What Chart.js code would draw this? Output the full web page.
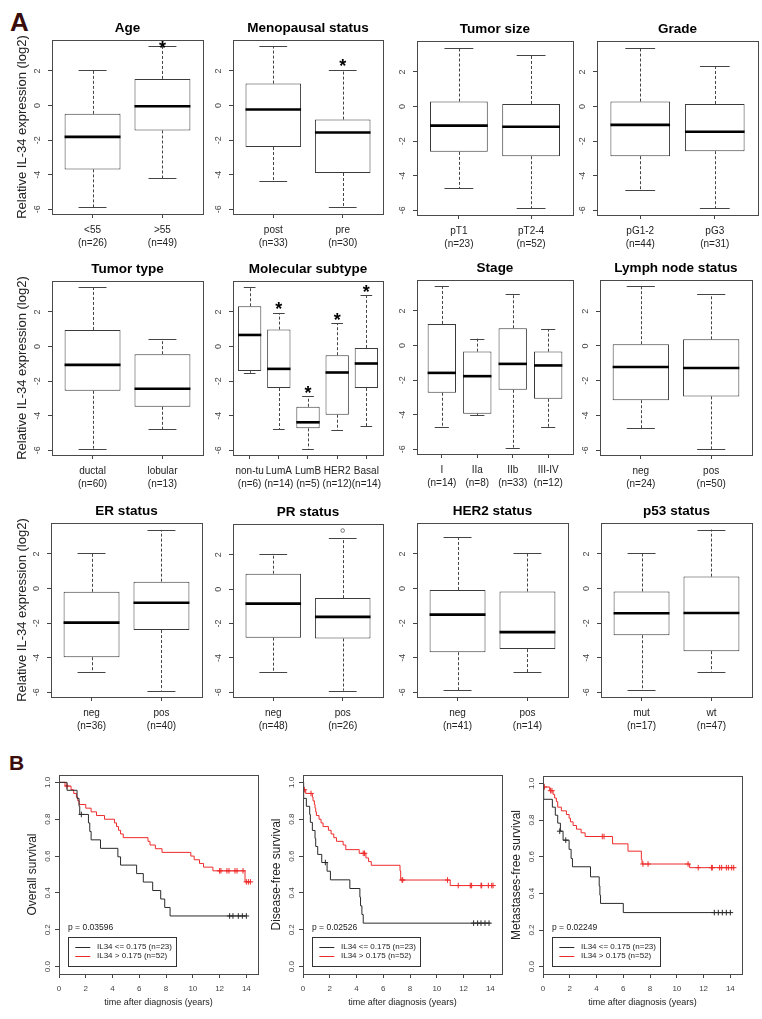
<!DOCTYPE html>
<html><head><meta charset="utf-8">
<script src="https://cdn.jsdelivr.net/npm/chart.js@4.4.1/dist/chart.umd.min.js"></script>
<style>
html,body{margin:0;padding:0;background:#fff;}
body{width:762px;height:1019px;position:relative;overflow:hidden;font-family:"Liberation Sans",Arial,sans-serif;}
canvas{position:absolute;}
.lab{position:absolute;font-weight:bold;color:#3a0c0c;line-height:1;font-family:"Liberation Sans",Arial,sans-serif;}
</style></head><body>
<div class="lab" style="left:10px;top:9px;font-size:26px;">A</div>
<div class="lab" style="left:9px;top:752px;font-size:21px;">B</div>
<script>
// ---------------- Panel A: box-plot statistics (log2 relative IL-34) ----------------
const boxYTicks = [-6, -4, -2, 0, 2];

const ageCats = ['<55', '>55'];         const ageN = [26, 49];
const ageLow = [-5.88, -4.21];          const ageQ1 = [-3.69, -1.44];  const ageMed = [-1.81, -0.04];
const ageQ3 = [-0.48, 1.54];            const ageHigh = [2.08, 3.42];  const ageStar = [false, true];

const menoCats = ['post', 'pre'];       const menoN = [33, 30];
const menoLow = [-4.38, -5.88];         const menoQ1 = [-2.40, -3.90]; const menoMed = [-0.23, -1.56];
const menoQ3 = [1.27, -0.81];           const menoHigh = [3.42, 2.08]; const menoStar = [false, true];

const sizeCats = ['pT1', 'pT2-4'];      const sizeN = [23, 52];
const sizeLow = [-4.73, -5.88];         const sizeQ1 = [-2.62, -2.87]; const sizeMed = [-1.10, -1.17];
const sizeQ3 = [0.29, 0.15];            const sizeHigh = [3.40, 3.00];

const gradeCats = ['pG1-2', 'pG3'];     const gradeN = [44, 31];
const gradeLow = [-4.85, -5.88];        const gradeQ1 = [-2.87, -2.58]; const gradeMed = [-1.06, -1.46];
const gradeQ3 = [0.29, 0.15];           const gradeHigh = [3.40, 2.33];

const typeCats = ['ductal', 'lobular']; const typeN = [60, 13];
const typeLow = [-5.90, -4.79];         const typeQ1 = [-2.56, -3.48]; const typeMed = [-1.06, -2.44];
const typeQ3 = [0.96, -0.44];           const typeHigh = [3.42, 0.44];

const molCats = ['non-tu', 'LumA', 'LumB', 'HER2', 'Basal']; const molN = [6, 14, 5, 12, 14];
const molLow = [-1.52, -4.79, -5.90, -4.85, -4.60];
const molQ1 = [-1.42, -2.40, -4.73, -3.94, -2.40];
const molMed = [0.67, -1.29, -4.38, -1.50, -0.98];
const molQ3 = [2.33, 0.98, -3.48, -0.50, -0.08];
const molHigh = [3.42, 1.94, -2.87, 1.35, 2.98];
const molStar = [false, true, true, true, true];

const stageCats = ['I', 'IIa', 'IIb', 'III-IV']; const stageN = [14, 8, 33, 12];
const stageLow = [-4.73, -4.04, -5.90, -4.73];
const stageQ1 = [-2.73, -3.94, -2.56, -3.08];
const stageMed = [-1.58, -1.77, -1.06, -1.15];
const stageQ3 = [1.25, -0.35, 1.00, -0.35];
const stageHigh = [3.42, 0.40, 3.00, 0.96];

const lnCats = ['neg', 'pos'];          const lnN = [24, 50];
const lnLow = [-4.73, -5.92];           const lnQ1 = [-3.12, -2.90];   const lnMed = [-1.21, -1.27];
const lnQ3 = [0.10, 0.38];              const lnHigh = [3.42, 2.98];

const erCats = ['neg', 'pos'];          const erN = [36, 40];
const erLow = [-4.85, -5.90];           const erQ1 = [-3.97, -2.40];   const erMed = [-1.97, -0.82];
const erQ3 = [-0.19, 0.40];             const erHigh = [2.05, 3.39];

const prCats = ['neg', 'pos'];          const prN = [48, 26];
const prLow = [-4.83, -5.90];           const prQ1 = [-2.82, -2.87];   const prMed = [-0.84, -1.61];
const prQ3 = [0.90, -0.52];             const prHigh = [2.07, 2.95];
const prOutX = [2];                     const prOutY = [3.41];

const her2Cats = ['neg', 'pos'];        const her2N = [41, 14];
const her2Low = [-5.88, -4.83];         const her2Q1 = [-3.68, -3.50]; const her2Med = [-1.51, -2.52];
const her2Q3 = [-0.08, -0.17];          const her2High = [2.97, 2.07];

const p53Cats = ['mut', 'wt'];          const p53N = [17, 47];
const p53Low = [-5.88, -4.80];          const p53Q1 = [-2.70, -3.62];  const p53Med = [-1.43, -1.41];
const p53Q3 = [-0.17, 0.69];            const p53High = [2.07, 3.41];

// ---------------- Panel B: Kaplan-Meier curves ----------------
const kmXTicks = [0, 2, 4, 6, 8, 10, 12, 14];
const kmYTicks = [0, 0.2, 0.4, 0.6, 0.8, 1.0];
const kmLabels = ['IL34 <= 0.175 (n=23)', 'IL34 > 0.175 (n=52)'];

// Overall survival
const osLowT = [0, 0.6, 1.35, 1.5, 1.55, 2.2, 2.3, 2.4, 3.1, 4.4, 4.6, 5.8, 6.3, 7.0, 7.6, 7.9, 8.3, 14.0];
const osLowS = [1, 0.957, 0.913, 0.870, 0.826, 0.780, 0.734, 0.688, 0.642, 0.596, 0.551, 0.505, 0.459, 0.413, 0.367, 0.321, 0.275, 0.275];
const osLowCensT = [1.67, 12.75, 13.0, 13.4, 13.7, 14.0];
const osLowCensS = [0.826, 0.275, 0.275, 0.275, 0.275, 0.275];
const osHighT = [0, 0.45, 0.9, 1.1, 1.3, 1.4, 1.5, 2.0, 2.4, 2.8, 3.4, 4.15, 4.3, 4.45, 4.6, 4.8, 6.65, 6.8, 7.2, 7.7, 9.85, 10.1, 10.5, 10.8, 11.5, 13.9, 14.3];
const osHighS = [1, 0.98, 0.96, 0.94, 0.92, 0.90, 0.88, 0.86, 0.84, 0.82, 0.80, 0.78, 0.76, 0.74, 0.72, 0.70, 0.68, 0.66, 0.64, 0.62, 0.60, 0.58, 0.56, 0.54, 0.52, 0.46, 0.46];
const osHighCensT = [0.6, 12.0, 12.1, 12.55, 12.7, 13.15, 13.3, 13.75, 14.0, 14.15, 14.3];
const osHighCensS = [0.98, 0.52, 0.52, 0.52, 0.52, 0.52, 0.52, 0.52, 0.46, 0.46, 0.46];

// Disease-free survival
const dfsLowT = [0, 0.05, 0.25, 0.5, 0.55, 0.7, 0.9, 0.95, 1.1, 1.4, 1.8, 2.05, 3.5, 4.25, 4.3, 4.4, 4.5, 14.0];
const dfsLowS = [1, 0.913, 0.870, 0.826, 0.783, 0.739, 0.696, 0.652, 0.609, 0.565, 0.518, 0.471, 0.424, 0.377, 0.330, 0.283, 0.236, 0.236];
const dfsLowCensT = [1.67, 12.75, 13.05, 13.3, 13.6, 13.9];
const dfsLowCensS = [0.565, 0.236, 0.236, 0.236, 0.236, 0.236];
const dfsHighT = [0, 0.02, 0.05, 0.2, 0.7, 0.75, 0.85, 0.9, 0.95, 1.0, 1.2, 1.35, 1.5, 1.9, 2.1, 2.3, 2.5, 3.0, 3.2, 4.2, 4.7, 4.9, 5.1, 7.25, 7.3, 11.0, 14.3];
const dfsHighS = [1, 0.98, 0.96, 0.94, 0.92, 0.90, 0.88, 0.86, 0.84, 0.82, 0.80, 0.78, 0.76, 0.74, 0.72, 0.70, 0.68, 0.66, 0.635, 0.615, 0.59, 0.57, 0.55, 0.52, 0.47, 0.44, 0.44];
const dfsHighCensT = [0.1, 0.6, 4.5, 4.6, 7.4, 7.45, 10.8, 11.6, 12.5, 12.6, 13.3, 13.35, 13.85, 14.1, 14.2];
const dfsHighCensS = [0.96, 0.94, 0.615, 0.615, 0.47, 0.47, 0.47, 0.44, 0.44, 0.44, 0.44, 0.44, 0.44, 0.44, 0.44];

// Metastases-free survival
const mfsLowT = [0, 0.05, 0.7, 0.92, 1.1, 1.3, 1.5, 1.95, 2.1, 2.2, 3.55, 4.2, 4.25, 4.3, 6.0, 14.0];
const mfsLowS = [1, 0.913, 0.870, 0.826, 0.783, 0.739, 0.690, 0.640, 0.590, 0.545, 0.490, 0.440, 0.390, 0.345, 0.295, 0.295];
const mfsLowCensT = [1.25, 1.7, 12.8, 13.1, 13.4, 13.7, 14.0];
const mfsLowCensS = [0.739, 0.690, 0.295, 0.295, 0.295, 0.295, 0.295];
const mfsHighT = [0, 0.03, 0.5, 0.75, 0.87, 1.0, 1.1, 1.37, 1.75, 1.95, 2.05, 2.25, 2.5, 2.85, 3.15, 5.2, 6.35, 7.35, 7.4, 10.96, 14.3];
const mfsHighS = [1, 0.98, 0.96, 0.94, 0.92, 0.90, 0.87, 0.85, 0.83, 0.81, 0.79, 0.77, 0.75, 0.73, 0.71, 0.67, 0.63, 0.585, 0.56, 0.54, 0.54];
const mfsHighCensT = [0.1, 0.57, 0.67, 4.43, 4.56, 7.47, 7.85, 10.84, 11.6, 12.6, 12.65, 13.2, 13.35, 13.7, 13.85, 14.1, 14.25];
const mfsHighCensS = [0.98, 0.96, 0.96, 0.71, 0.71, 0.56, 0.56, 0.56, 0.54, 0.54, 0.54, 0.54, 0.54, 0.54, 0.54, 0.54, 0.54];

// ---------------- rendering ----------------
Chart.defaults.font.family = "'Liberation Sans', Arial, Helvetica, sans-serif";
Chart.defaults.animation = false;

function addCanvas(left, top, w, h) {
  const c = document.createElement('canvas');
  c.width = w; c.height = h;
  c.style.left = left + 'px'; c.style.top = top + 'px';
  c.style.width = w + 'px'; c.style.height = h + 'px';
  document.body.appendChild(c);
  return c;
}
const al = v => Math.round(v) + 0.5;

const framePlugin = {
  id: 'frame',
  afterDraw(chart) {
    const {ctx, chartArea: a} = chart;
    ctx.save();
    ctx.strokeStyle = '#4a4a4a'; ctx.lineWidth = 1; ctx.setLineDash([]);
    ctx.strokeRect(al(a.left), al(a.top), Math.round(a.right - a.left), Math.round(a.bottom - a.top));
    ctx.restore();
  }
};

function boxPanel(p) {
  const [l, t, r, b] = p.frame;
  const AL = p.yTitle ? l : 30, AT = 30, AB = 48, AR = 12;
  const W = AL + (r - l) + AR, H = AT + (b - t) + AB;
  const cv = addCanvas(l - AL, t - AT, W, H);
  const n = p.cats.length;
  const pad = p.xPad !== undefined ? p.xPad : 0.04 * n;
  const xmin = 0.5 - pad, xmax = n + 0.5 + pad;

  const extras = {
    id: 'boxExtras',
    afterDatasetsDraw(chart) {
      const {ctx} = chart; const xs = chart.scales.x, ys = chart.scales.y;
      const unit = xs.getPixelForValue(1) - xs.getPixelForValue(0);
      const ln = (x1, y1, x2, y2) => { ctx.beginPath(); ctx.moveTo(x1, y1); ctx.lineTo(x2, y2); ctx.stroke(); };
      ctx.save();
      p.cats.forEach((c, i) => {
        const cx = xs.getPixelForValue(i + 1);
        const yHi = ys.getPixelForValue(p.hi[i]), yLo = ys.getPixelForValue(p.lo[i]);
        const yQ1 = ys.getPixelForValue(p.q1[i]), yQ3 = ys.getPixelForValue(p.q3[i]);
        const yMed = ys.getPixelForValue(p.med[i]);
        ctx.strokeStyle = '#444'; ctx.lineWidth = 1;
        ctx.setLineDash([3, 2]);
        ln(al(cx), yQ3, al(cx), yHi);
        ln(al(cx), yQ1, al(cx), yLo);
        ctx.setLineDash([]);
        ln(cx - 0.2 * unit, al(yHi), cx + 0.2 * unit, al(yHi));
        ln(cx - 0.2 * unit, al(yLo), cx + 0.2 * unit, al(yLo));
        ctx.strokeStyle = '#000'; ctx.lineWidth = 2.6;
        ln(cx - 0.4 * unit, yMed, cx + 0.4 * unit, yMed);
        if (p.star && p.star[i]) {
          const top = chart.chartArea.top;
          const sy = Math.max(yHi - 8, top + 3.5);
          ctx.fillStyle = '#000';
          ctx.font = "bold 18px 'Liberation Sans', Arial, sans-serif";
          ctx.textAlign = 'center'; ctx.textBaseline = 'alphabetic';
          ctx.fillText('*', cx, sy + 10.5);
        }
      });
      ctx.restore();
    }
  };

  const datasets = [{
    type: 'bar',
    data: p.cats.map((c, i) => ({x: i + 1, y: [p.q1[i], p.q3[i]]})),
    backgroundColor: '#ffffff', borderColor: '#3a3a3a', borderWidth: 1, borderSkipped: false,
    barPercentage: 0.8, categoryPercentage: 1.0
  }];
  if (p.outX) {
    datasets.push({
      type: 'scatter',
      data: p.outX.map((x, i) => ({x, y: p.outY[i]})),
      pointStyle: 'circle', pointRadius: 1.8, borderColor: '#555', backgroundColor: 'rgba(0,0,0,0)', borderWidth: 0.8
    });
  }
  const tickGrid = {display: true, drawOnChartArea: false, drawTicks: true, tickLength: 4, color: '#444', offset: false};

  new Chart(cv, {
    type: 'bar',
    data: {datasets},
    plugins: [extras, framePlugin],
    options: {
      responsive: false, animation: false, devicePixelRatio: 1,
      layout: {padding: {left: 0, right: AR, top: 0, bottom: 0}},
      plugins: {
        legend: {display: false}, tooltip: {enabled: false},
        title: {display: true, text: p.title, fullSize: false, color: '#000',
                font: {size: 13.5, weight: 'bold'}, padding: {top: 9.9, bottom: 3.9}}
      },
      scales: {
        x: {
          type: 'linear', min: xmin, max: xmax, offset: false, bounds: 'data',
          afterBuildTicks: s => { s.ticks = p.cats.map((c, i) => ({value: i + 1})); },
          afterFit: s => { s.height = AB; },
          ticks: {autoSkip: false, maxRotation: 0, minRotation: 0, includeBounds: false,
                  font: {size: p.tickFont || 10, lineHeight: 1.3}, color: '#222', padding: 5.5,
                  callback: v => { const i = Math.round(v) - 1; return [p.cats[i], '(n=' + p.ns[i] + ')']; }},
          grid: tickGrid, border: {display: false}
        },
        y: {
          type: 'linear', min: -6.27, max: 3.79, bounds: 'data',
          afterBuildTicks: s => { s.ticks = boxYTicks.map(v => ({value: v})); },
          afterFit: s => { s.width = AL; },
          ticks: {minRotation: 90, maxRotation: 90, crossAlign: 'center', includeBounds: false,
                  font: {size: 9}, color: '#444', padding: 6},
          grid: tickGrid, border: {display: false},
          title: {display: !!p.yTitle, text: p.yTitle || '', color: '#222', font: {size: 13},
                  padding: {top: 15.1, bottom: 0}}
        }
      }
    }
  });
}

function kmPanel(p) {
  const [l, t, r, b] = p.frame;
  const AL = 45, AT = 10, AB = 1019 - b, AR = 10;
  const W = AL + (r - l) + AR, H = AT + (b - t) + AB;
  const cv = addCanvas(l - AL, t - AT, W, H);
  const lowCol = '#2a2a2a', highCol = '#ee2b2b';

  const legendPlugin = {
    id: 'kmLegend',
    afterDatasetsDraw(chart) {
      const {ctx, chartArea: a} = chart;
      const bx = a.left + 9, bw = 108, bb = a.bottom - 8, bh = 29, by = bb - bh;
      ctx.save();
      ctx.fillStyle = '#222';
      ctx.font = "8.5px 'Liberation Sans', Arial, sans-serif";
      ctx.textBaseline = 'middle'; ctx.textAlign = 'left';
      ctx.fillText(p.pText, bx, a.bottom - 46);
      ctx.fillStyle = '#fff';
      ctx.fillRect(bx, by, bw, bh);
      ctx.strokeStyle = '#333'; ctx.lineWidth = 1;
      ctx.strokeRect(al(bx), al(by), bw, bh);
      chart.data.datasets.slice(0, 2).forEach((ds, i) => {
        const yy = by + 9.5 + i * 9.3;
        ctx.strokeStyle = ds.borderColor;
        ctx.beginPath(); ctx.moveTo(bx + 7.3, al(yy)); ctx.lineTo(bx + 22.3, al(yy)); ctx.stroke();
        ctx.fillStyle = '#222';
        ctx.font = "8px 'Liberation Sans', Arial, sans-serif";
        ctx.fillText(ds.label, bx + 29, yy);
      });
      ctx.restore();
    }
  };
  const tickGrid = {display: true, drawOnChartArea: false, drawTicks: true, tickLength: 4, color: '#444'};
  const pts = (xs, ys) => xs.map((x, i) => ({x, y: ys[i]}));

  new Chart(cv, {
    type: 'line',
    data: {datasets: [
      {label: kmLabels[0], data: pts(p.lowT, p.lowS), stepped: true, borderColor: lowCol, borderWidth: 1, pointRadius: 0, fill: false},
      {label: kmLabels[1], data: pts(p.highT, p.highS), stepped: true, borderColor: highCol, borderWidth: 1, pointRadius: 0, fill: false},
      {type: 'scatter', label: 'censored low', data: pts(p.lowCT, p.lowCS), pointStyle: 'cross', pointRadius: 2.8, borderColor: lowCol, borderWidth: 1},
      {type: 'scatter', label: 'censored high', data: pts(p.highCT, p.highCS), pointStyle: 'cross', pointRadius: 2.8, borderColor: highCol, borderWidth: 1}
    ]},
    plugins: [legendPlugin, framePlugin],
    options: {
      responsive: false, animation: false, devicePixelRatio: 1,
      layout: {padding: {left: 0, right: AR, top: AT, bottom: 0}},
      plugins: {legend: {display: false}, tooltip: {enabled: false}, title: {display: false}},
      scales: {
        x: {
          type: 'linear', min: 0, max: 14.87, bounds: 'data',
          afterBuildTicks: s => { s.ticks = kmXTicks.map(v => ({value: v})); },
          afterFit: s => { s.height = AB; },
          ticks: {autoSkip: false, maxRotation: 0, minRotation: 0, font: {size: 8}, color: '#444', padding: 5.5},
          grid: tickGrid, border: {display: false},
          title: {display: true, text: 'time after diagnosis (years)', color: '#222', font: {size: 9}, padding: {top: 0, bottom: 11.3}}
        },
        y: {
          type: 'linear', min: -0.04, max: 1.04, bounds: 'data',
          afterBuildTicks: s => { s.ticks = kmYTicks.map(v => ({value: v})); },
          afterFit: s => { s.width = AL; },
          ticks: {minRotation: 90, maxRotation: 90, crossAlign: 'center', font: {size: 8}, color: '#444', padding: 1.4,
                  callback: v => Number(v).toFixed(1)},
          grid: tickGrid, border: {display: false},
          title: {display: true, text: p.yTitle, color: '#222', font: {size: 12}, padding: {top: 11.8, bottom: 0}}
        }
      }
    }
  });
}

const yLab = 'Relative IL-34 expression (log2)';
boxPanel({frame: [52, 40, 203, 214], title: 'Age', yTitle: yLab, cats: ageCats, ns: ageN, lo: ageLow, q1: ageQ1, med: ageMed, q3: ageQ3, hi: ageHigh, star: ageStar});
boxPanel({frame: [233, 40, 383, 214], title: 'Menopausal status', cats: menoCats, ns: menoN, lo: menoLow, q1: menoQ1, med: menoMed, q3: menoQ3, hi: menoHigh, star: menoStar});
boxPanel({frame: [417, 41, 573, 215], title: 'Tumor size', cats: sizeCats, ns: sizeN, lo: sizeLow, q1: sizeQ1, med: sizeMed, q3: sizeQ3, hi: sizeHigh});
boxPanel({frame: [597, 41, 758, 215], title: 'Grade', cats: gradeCats, ns: gradeN, lo: gradeLow, q1: gradeQ1, med: gradeMed, q3: gradeQ3, hi: gradeHigh});

boxPanel({frame: [52, 281, 203, 455], title: 'Tumor type', yTitle: yLab, cats: typeCats, ns: typeN, lo: typeLow, q1: typeQ1, med: typeMed, q3: typeQ3, hi: typeHigh});
boxPanel({frame: [233, 281, 383, 455], title: 'Molecular subtype', xPad: 0.07, tickFont: 10, cats: molCats, ns: molN, lo: molLow, q1: molQ1, med: molMed, q3: molQ3, hi: molHigh, star: molStar});
boxPanel({frame: [417, 280, 573, 454], title: 'Stage', xPad: 0.2, cats: stageCats, ns: stageN, lo: stageLow, q1: stageQ1, med: stageMed, q3: stageQ3, hi: stageHigh});
boxPanel({frame: [600, 280, 752, 455], title: 'Lymph node status', cats: lnCats, ns: lnN, lo: lnLow, q1: lnQ1, med: lnMed, q3: lnQ3, hi: lnHigh});

boxPanel({frame: [51, 523, 202, 697], title: 'ER status', yTitle: yLab, cats: erCats, ns: erN, lo: erLow, q1: erQ1, med: erMed, q3: erQ3, hi: erHigh});
boxPanel({frame: [233, 524, 383, 697], title: 'PR status', cats: prCats, ns: prN, lo: prLow, q1: prQ1, med: prMed, q3: prQ3, hi: prHigh, outX: prOutX, outY: prOutY});
boxPanel({frame: [417, 523, 568, 697], title: 'HER2 status', cats: her2Cats, ns: her2N, lo: her2Low, q1: her2Q1, med: her2Med, q3: her2Q3, hi: her2High});
boxPanel({frame: [601, 523, 752, 697], title: 'p53 status', cats: p53Cats, ns: p53N, lo: p53Low, q1: p53Q1, med: p53Med, q3: p53Q3, hi: p53High});

kmPanel({frame: [59, 775, 258, 974], yTitle: 'Overall survival', pText: 'p = 0.03596',
  lowT: osLowT, lowS: osLowS, lowCT: osLowCensT, lowCS: osLowCensS, highT: osHighT, highS: osHighS, highCT: osHighCensT, highCS: osHighCensS});
kmPanel({frame: [303, 775, 502, 974], yTitle: 'Disease-free survival', pText: 'p = 0.02526',
  lowT: dfsLowT, lowS: dfsLowS, lowCT: dfsLowCensT, lowCS: dfsLowCensS, highT: dfsHighT, highS: dfsHighS, highCT: dfsHighCensT, highCS: dfsHighCensS});
kmPanel({frame: [543, 776, 742, 974], yTitle: 'Metastases-free survival', pText: 'p = 0.02249',
  lowT: mfsLowT, lowS: mfsLowS, lowCT: mfsLowCensT, lowCS: mfsLowCensS, highT: mfsHighT, highS: mfsHighS, highCT: mfsHighCensT, highCS: mfsHighCensS});
</script>
</body></html>
